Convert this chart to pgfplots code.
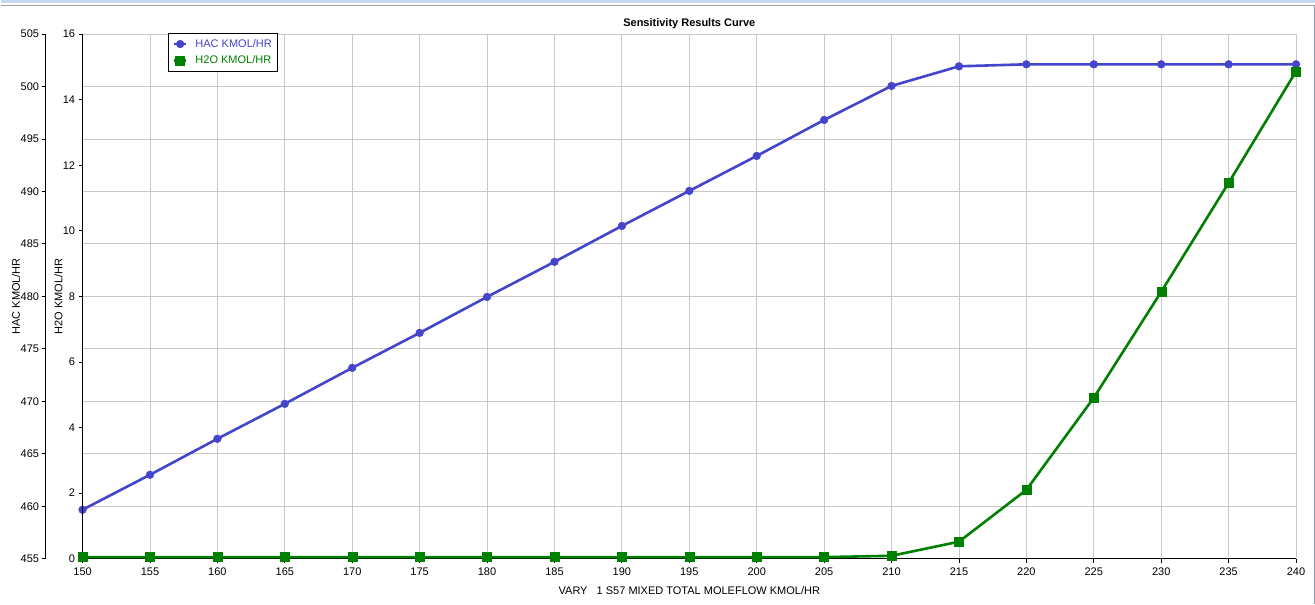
\documentclass[border=0pt]{standalone}
\usepackage{fontspec}
\setmainfont{Liberation Sans}
\usepackage{pgfplots}
\pgfplotsset{compat=1.18}
\definecolor{hacblue}{HTML}{4444CC}
\definecolor{h2ogreen}{HTML}{008000}
\definecolor{gridgray}{HTML}{C8C8C8}
\definecolor{framegray}{HTML}{9A9EA8}
\definecolor{frameblue}{HTML}{C5D7EE}

\pgfplotstableread{
x    hac     h2o
150  459.67  0.05
155  463.00  0.05
160  466.43  0.05
165  469.76  0.05
170  473.19  0.05
175  476.52  0.05
180  479.95  0.05
185  483.29  0.05
190  486.71  0.05
195  490.05  0.05
200  493.38  0.05
205  496.81  0.05
210  500.05  0.09
215  501.92  0.52
220  502.11  2.10
225  502.11  4.91
230  502.11  8.14
235  502.11  11.46
240  502.11  14.86
}\sensdata

\begin{document}
\begin{tikzpicture}[x=1pt,y=1pt]
\path[fill=white] (0,0) rectangle (1315,604);
\fill[frameblue] (0,601) rectangle (1315,604);
\draw[framegray, line width=1.2pt] (0,598.5) -- (1314.3,598.5) -- (1314.3,0);

\pgfplotsset{
  every axis/.append style={
    scale only axis,
    width=1214pt, height=525pt,
    font=\fontsize{11}{13}\selectfont,
    /pgf/number format/assume math mode=true,
    tick align=outside,
    major tick length=4pt,
    axis line style={black, line width=0.8pt},
    every tick/.style={black, line width=0.8pt},
    clip=false,
  },
}

% outer HAC scale
\begin{axis}[
    at={(45pt,45pt)}, anchor=south west,
    width=1251pt,
    xmin=0, xmax=1, ymin=455, ymax=505,
    hide x axis,
    axis y line*=left,
    ytick={455,460,...,505},
    yticklabel style={xshift=1pt},
    ylabel={HAC KMOL/HR},
    every axis y label/.style={at={(axis description cs:-0.0236,0.5)}, rotate=90, anchor=center},
]
\end{axis}

% main axis: grid, x axis, HAC data
\begin{axis}[
    at={(82pt,45pt)}, anchor=south west,
    xmin=150, xmax=240, ymin=455, ymax=505,
    axis x line*=bottom, axis y line*=left,
    xtick={150,155,...,240},
    ytick={455,460,...,505},
    yticklabels={},
    ytick style={draw=none},
    xticklabel style={yshift=-2pt},
    grid=major,
    grid style={gridgray, line width=0.8pt},
    xlabel={VARY\ \ \ 1 S57 MIXED TOTAL MOLEFLOW KMOL/HR},
    xlabel style={yshift=-4pt},
    title={\textbf{Sensitivity Results Curve}},
    title style={yshift=-4pt},
]
\addplot[hacblue, line width=2.6pt, mark=*, mark size=3.9pt, mark options={solid, line width=0.4pt, fill=hacblue}]
    table[x=x, y=hac] {\sensdata};
\end{axis}

% H2O scale and data
\begin{axis}[
    at={(82pt,45pt)}, anchor=south west,
    xmin=150, xmax=240, ymin=0, ymax=16,
    hide x axis,
    axis y line*=left,
    ytick={0,2,...,16},
    ylabel={H2O KMOL/HR},
    every axis y label/.style={at={(axis description cs:-0.0198,0.5)}, rotate=90, anchor=center},
    legend style={at={(axis description cs:0.0708,1.002)}, anchor=north west,
        draw=black, line width=0.8pt, font=\fontsize{11}{13}\selectfont,
        inner xsep=4pt, inner ysep=4pt, row sep=3pt,
        /tikz/every odd column/.append style={column sep=6pt}},
    legend cell align=left,
    legend image code/.code={\draw[mark repeat=2, mark phase=2, #1] plot coordinates {(0pt,0pt) (6pt,0pt) (12pt,0pt)};},
]
\addlegendimage{hacblue, line width=2.6pt, mark=*, mark size=3.9pt, mark options={solid, line width=0.4pt, fill=hacblue}}
\addlegendentry{\textcolor{hacblue}{HAC KMOL/HR}}
\addplot[h2ogreen, line width=2.6pt, mark=square*, mark size=4.5pt, mark options={solid, line width=0.4pt, fill=h2ogreen}]
    table[x=x, y=h2o] {\sensdata};
\addlegendentry{\textcolor{h2ogreen}{H2O KMOL/HR}}
\end{axis}
\end{tikzpicture}
\end{document}
